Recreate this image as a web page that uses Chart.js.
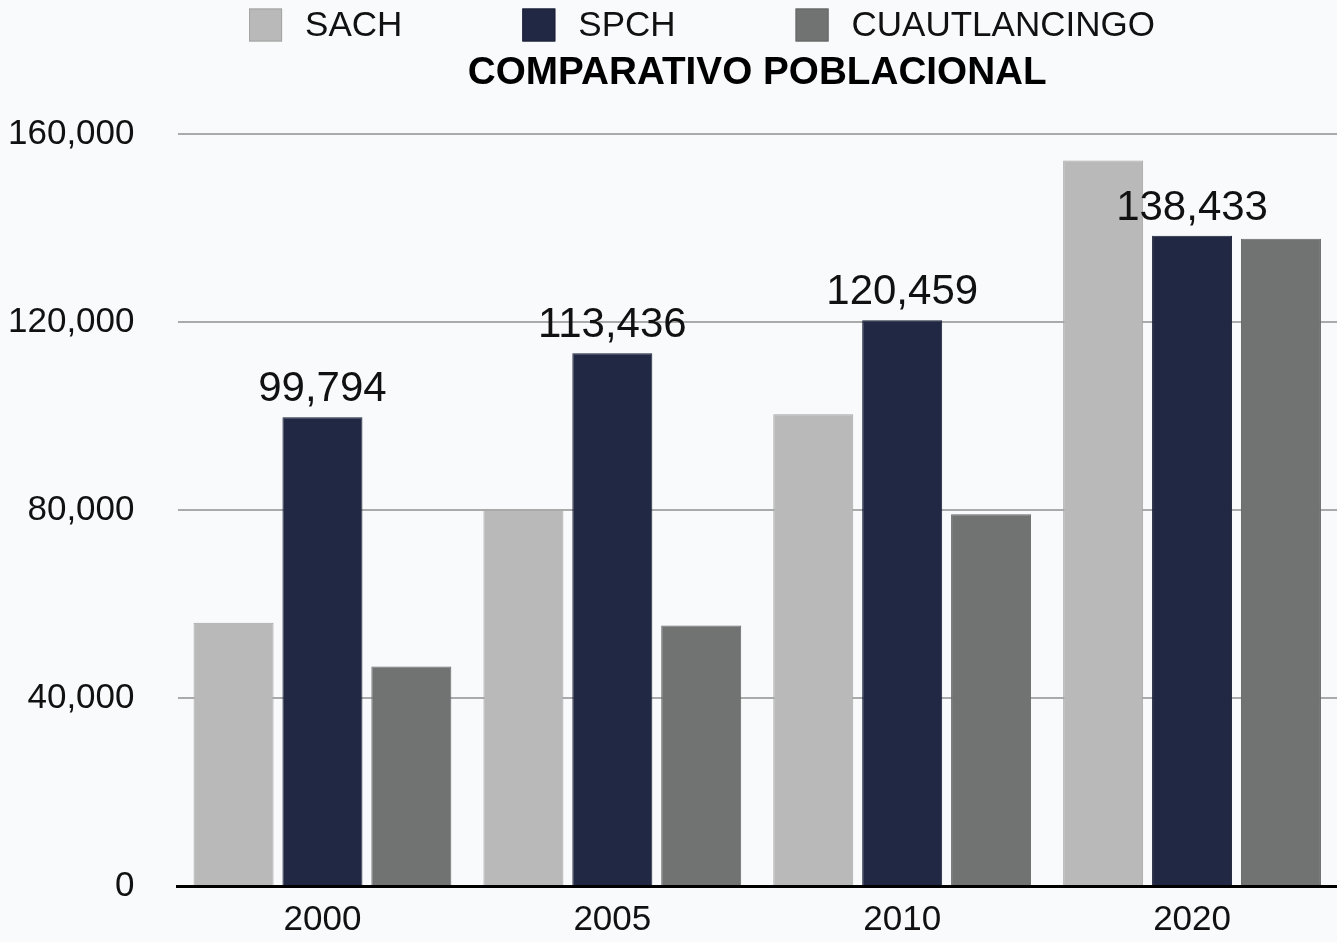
<!DOCTYPE html>
<html>
<head>
<meta charset="utf-8">
<script src="https://cdn.jsdelivr.net/npm/chart.js@4"></script>
<style>
  html, body { margin: 0; padding: 0; background: #f9fafc; }
  #wrap { width: 1337px; height: 942px; }
</style>
</head>
<body>
<div id="wrap"><canvas id="c" width="1337" height="942"></canvas></div>
<script>
const categories = ['2000', '2005', '2010', '2020'];
const seriesNames = ['SACH', 'SPCH', 'CUAUTLANCINGO'];
const sachValues = [56066, 80118, 100439, 154448];
const spchValues = [99794, 113436, 120459, 138433];
const cuautlancingoValues = [46729, 55456, 79153, 137783];
const yTicks = [0, 40000, 80000, 120000, 160000];
const chartTitle = 'COMPARATIVO POBLACIONAL';

const FONT = "'Liberation Sans', Arial, Helvetica, sans-serif";
const fills = ['#b9b9b9', '#212843', '#717272'];
const borders = ['#a3a3a3', '#1a2036', '#666767'];

const bgPlugin = {
  id: 'bg',
  beforeDraw(chart) {
    const ctx = chart.ctx;
    ctx.save();
    ctx.fillStyle = '#f9fafc';
    ctx.fillRect(0, 0, chart.width, chart.height);
    ctx.restore();
  }
};

// centre the title over the plot area instead of the whole canvas
const titleAlignPlugin = {
  id: 'titleAlign',
  afterLayout(chart) {
    if (chart.titleBlock) {
      chart.titleBlock.left = chart.chartArea.left;
      chart.titleBlock.right = chart.chartArea.right;
    }
  }
};

const legendPlugin = {
  id: 'customLegend',
  afterDraw(chart) {
    const ctx = chart.ctx;
    ctx.save();
    ctx.font = '35px ' + FONT;
    const box = 33, gapText = 23, gapItem = 120;
    const widths = chart.data.datasets.map(d => ctx.measureText(d.label).width);
    let total = 0;
    widths.forEach((w, i) => { total += box + gapText + w + (i < widths.length - 1 ? gapItem : 0); });
    let x = 702 - total / 2;
    const yc = 25;
    chart.data.datasets.forEach((d, i) => {
      ctx.fillStyle = d.backgroundColor;
      ctx.fillRect(x, yc - box / 2, box, box);
      ctx.strokeStyle = d.borderColor;
      ctx.lineWidth = 1;
      ctx.strokeRect(x + 0.5, yc - box / 2 + 0.5, box - 1, box - 1);
      ctx.fillStyle = '#111';
      ctx.textBaseline = 'middle';
      ctx.textAlign = 'left';
      ctx.fillText(d.label, x + box + gapText, yc + 1);
      x += box + gapText + widths[i] + gapItem;
    });
    ctx.restore();
  }
};

const labelPlugin = {
  id: 'valueLabels',
  afterDatasetsDraw(chart) {
    const ctx = chart.ctx;
    const meta = chart.getDatasetMeta(1);
    const data = chart.data.datasets[1].data;
    ctx.save();
    ctx.font = '42px ' + FONT;
    ctx.fillStyle = '#111';
    ctx.textAlign = 'center';
    ctx.textBaseline = 'alphabetic';
    meta.data.forEach((bar, i) => {
      ctx.fillText(data[i].toLocaleString('en-US'), bar.x, bar.y - 16);
    });
    ctx.restore();
  }
};

const allSeries = [sachValues, spchValues, cuautlancingoValues];

new Chart(document.getElementById('c'), {
  type: 'bar',
  data: {
    labels: categories,
    datasets: seriesNames.map((name, i) => ({
      label: name,
      data: allSeries[i],
      backgroundColor: fills[i],
      borderColor: borders[i],
      borderWidth: 1,
      categoryPercentage: 0.92,
      barPercentage: 0.9
    }))
  },
  options: {
    responsive: false,
    animation: false,
    devicePixelRatio: 1,
    layout: { padding: { left: 8, right: 0, top: 0, bottom: 0 } },
    plugins: {
      legend: { display: false },
      tooltip: { enabled: false },
      title: {
        display: true,
        text: chartTitle,
        color: '#000',
        font: { family: FONT, size: 38.7, weight: 'bold', lineHeight: 1.2 },
        padding: { top: 50, bottom: 38 }
      }
    },
    scales: {
      x: {
        grid: { display: false, drawTicks: true, tickLength: 12 },
        border: { display: true, color: '#000', width: 3 },
        ticks: { color: '#111', font: { family: FONT, size: 35 }, padding: 1 }
      },
      y: {
        min: 0,
        max: 160000,
        afterBuildTicks(scale) { scale.ticks = yTicks.map(v => ({ value: v })); },
        grid: { color: '#aaaaaa', lineWidth: 2, drawTicks: true, tickLength: 43, tickColor: 'rgba(0,0,0,0)' },
        border: { display: false },
        ticks: {
          color: '#111',
          font: { family: FONT, size: 35 },
          padding: 0,
          callback: v => v.toLocaleString('en-US')
        }
      }
    }
  },
  plugins: [bgPlugin, titleAlignPlugin, legendPlugin, labelPlugin]
});
</script>
</body>
</html>
